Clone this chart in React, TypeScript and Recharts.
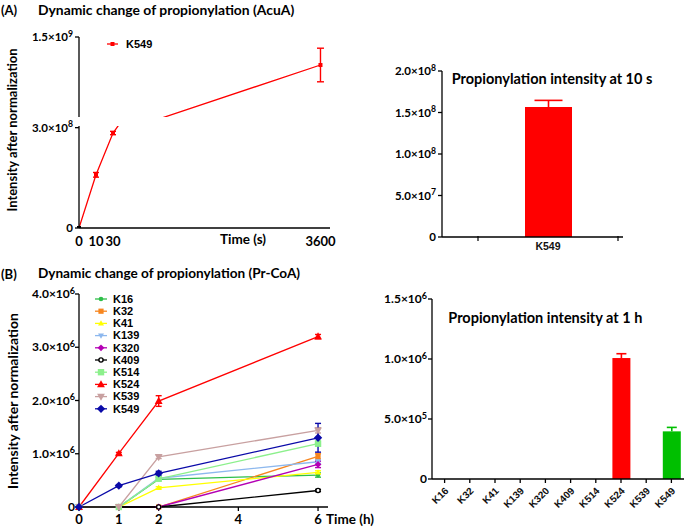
import React from "react";
import { LineChart, Line, BarChart, Bar, XAxis, YAxis, ErrorBar, Cell } from "recharts";

const SANS = "Lato, 'Open Sans', sans-serif";
const ARIAL = "'Liberation Sans', Arial, sans-serif";

// (A) AcuA time course for K549. The figure's time axis is not linear,
// so each time point gets an axis position; the labels are the real times.
const acuaTimes = ["0", "10", "30", "3600"];
const acuaAxisPos = [0, 1, 2, 14.2];
const acuaK549 = [0, 1.59e8, 2.84e8, 1.15e9];
const acuaK549Err = [0, 0.07e8, 0.05e8, 2.1e8];

// (A) bar, intensity at 10 s
const bar10sSites = ["K549"];
const bar10sValues = [1.566e8];
const bar10sErr = [0.08e8];

// (B) Pr-CoA time course
const hours = [0, 1, 2, 6];
const k16 = [0, 0, 0.52e6, 0.6e6];
const k32 = [0, 0, 0, 0.95e6];
const k41 = [0, 0, 0.36e6, 0.65e6];
const k139 = [0, 0, 0.54e6, 0.85e6];
const k320 = [0, 0, 0, 0.8e6];
const k409 = [0, 0, 0, 0.31e6];
const k514 = [0, 0, 0.53e6, 1.19e6];
const k524 = [0, 1.005e6, 1.99e6, 3.2e6];
const k539 = [0, 0, 0.94e6, 1.44e6];
const k549 = [0, 0.4e6, 0.63e6, 1.3e6];

const k16Err = [0, 0, 0, 0.04e6];
const k32Err = [0, 0, 0, 0.05e6];
const k41Err = [0, 0, 0.02e6, 0.03e6];
const k139Err = [0, 0, 0.02e6, 0.03e6];
const k320Err = [0, 0, 0, 0.06e6];
const k409Err = [0, 0, 0, 0.02e6];
const k514Err = [0, 0, 0.02e6, 0.05e6];
const k524Err = [0, 0.02e6, 0.1e6, 0.04e6];
const k539Err = [0, 0, 0.03e6, 0.05e6];
const k549Err = [0, 0.02e6, 0.04e6, 0.27e6];

// (B) bar, intensity at 1 h
const bar1hSites = ["K16", "K32", "K41", "K139", "K320", "K409", "K514", "K524", "K539", "K549"];
const bar1hValues = [0, 0, 0, 0, 0, 0, 0, 1.008e6, 0, 0.397e6];
const bar1hErr = [0, 0, 0, 0, 0, 0, 0, 0.036e6, 0, 0.033e6];
const bar1hColors = ["#ff0000", "#ff0000", "#ff0000", "#ff0000", "#ff0000", "#ff0000", "#ff0000", "#ff0000", "#ff0000", "#00bf00"];

type Shape = "circle" | "open" | "square" | "up" | "down" | "diamond";

const seriesB: { name: string; values: number[]; err: number[]; color: string; shape: Shape; r: number }[] = [
  { name: "K16", values: k16, err: k16Err, color: "#2fbf4a", shape: "circle", r: 2.3 },
  { name: "K32", values: k32, err: k32Err, color: "#f7861f", shape: "square", r: 2.6 },
  { name: "K41", values: k41, err: k41Err, color: "#ffff00", shape: "up", r: 2.6 },
  { name: "K139", values: k139, err: k139Err, color: "#8db8ee", shape: "down", r: 2.6 },
  { name: "K320", values: k320, err: k320Err, color: "#b400b4", shape: "diamond", r: 2.6 },
  { name: "K409", values: k409, err: k409Err, color: "#000000", shape: "open", r: 2.8 },
  { name: "K514", values: k514, err: k514Err, color: "#8cf08c", shape: "square", r: 3.2 },
  { name: "K524", values: k524, err: k524Err, color: "#ff0000", shape: "up", r: 3.4 },
  { name: "K539", values: k539, err: k539Err, color: "#c8a0a0", shape: "down", r: 3.4 },
  { name: "K549", values: k549, err: k549Err, color: "#0a0aa8", shape: "diamond", r: 3.2 },
];

const acuaData = acuaTimes.map((t, i) => ({ pos: acuaAxisPos[i], t, v: acuaK549[i], err: acuaK549Err[i] }));
const bar10sData = bar10sSites.map((s, i) => ({ site: s, v: bar10sValues[i], err: bar10sErr[i] }));
const bar1hData = bar1hSites.map((s, i) => ({ site: s, v: bar1hValues[i], err: bar1hErr[i] }));
const prcoaData = hours.map((h, i) => {
  const row: Record<string, number> = { h };
  seriesB.forEach((s) => {
    row[s.name] = s.values[i];
    row[s.name + "_err"] = s.err[i];
  });
  return row;
});

function Marker({ cx, cy, shape, color, r }: { cx: number; cy: number; shape: Shape; color: string; r: number }) {
  if (cx == null || cy == null) return null;
  switch (shape) {
    case "circle":
      return <circle cx={cx} cy={cy} r={r} fill={color} />;
    case "open":
      return <circle cx={cx} cy={cy} r={r - 0.7} fill="#fff" stroke={color} strokeWidth={1.4} />;
    case "square":
      return <rect x={cx - r} y={cy - r} width={2 * r} height={2 * r} fill={color} />;
    case "up":
      return <polygon points={`${cx},${cy - r * 1.25} ${cx - r * 1.15},${cy + r * 0.85} ${cx + r * 1.15},${cy + r * 0.85}`} fill={color} />;
    case "down":
      return <polygon points={`${cx},${cy + r * 1.25} ${cx - r * 1.15},${cy - r * 0.85} ${cx + r * 1.15},${cy - r * 0.85}`} fill={color} />;
    default:
      return <polygon points={`${cx},${cy - r * 1.3} ${cx + r * 1.3},${cy} ${cx},${cy + r * 1.3} ${cx - r * 1.3},${cy}`} fill={color} />;
  }
}

function SciTick(props: any) {
  const { x, y, payload, size = 11.5 } = props;
  const v = payload.value as number;
  let body: React.ReactNode = "0";
  if (v !== 0) {
    const [m, e] = v.toExponential(1).split("e");
    body = (
      <>
        {m}×10
        <tspan dy="-0.5em" fontSize={size * 0.75}>
          {String(Number(e))}
        </tspan>
      </>
    );
  }
  return (
    <text x={x} y={y} dy="0.35em" textAnchor="end" fontFamily={SANS} fontWeight={700} fontSize={size} fill="#000">
      {body}
    </text>
  );
}

function PlainTick(props: any) {
  const { x, y, payload, fmt } = props;
  return (
    <text x={x} y={y} dy="0.75em" textAnchor="middle" fontFamily={SANS} fontWeight={700} fontSize={13} fill="#000">
      {fmt ? fmt(payload.value) : payload.value}
    </text>
  );
}

// category label with tick marks on the band edges, as GraphPad draws them
function BandTick(props: any) {
  const { x, y, payload, half } = props;
  return (
    <g>
      <line x1={x - half} x2={x - half} y1={y - 1} y2={y + 4} stroke="#000" strokeWidth={1.2} />
      <line x1={x + half} x2={x + half} y1={y - 1} y2={y + 4} stroke="#000" strokeWidth={1.2} />
      <text x={x} y={y + 5} dy="0.75em" textAnchor="middle" fontFamily={ARIAL} fontWeight={700} fontSize={10.5} fill="#111">
        {payload.value}
      </text>
    </g>
  );
}

function RotTick(props: any) {
  const { x, y, payload } = props;
  const tx = x + 2;
  const ty = y + 4;
  return (
    <text x={tx} y={ty} dy="0.35em" textAnchor="end" transform={`rotate(-45 ${tx} ${ty})`} fontFamily={ARIAL} fontWeight={700} fontSize={10} fill="#111">
      {payload.value}
    </text>
  );
}

// bar with an upward-only error whisker in the bar's own colour
function BarUp(props: any) {
  const { x, y, width, height, payload, index } = props;
  if (!payload || !payload.v || height <= 0) return null;
  const color = bar1hColors[index];
  const up = (payload.err * height) / payload.v;
  const cx = x + width / 2;
  return (
    <g>
      <rect x={x} y={y} width={width} height={height} fill={color} />
      <line x1={cx} x2={cx} y1={y} y2={y - up} stroke={color} strokeWidth={1.6} />
      <line x1={cx - 5} x2={cx + 5} y1={y - up} y2={y - up} stroke={color} strokeWidth={1.6} />
    </g>
  );
}

function Txt({ x, y, children, size = 13, weight = 700, rotate = 0, anchor = "left", family = SANS }: any) {
  const tx = anchor === "center" ? "-50%" : "0";
  return (
    <div
      style={{
        position: "absolute",
        left: x,
        top: y,
        transform: `translate(${tx}, -50%) rotate(${rotate}deg)`,
        fontFamily: family,
        fontSize: size,
        fontWeight: weight,
        lineHeight: 1,
        whiteSpace: "nowrap",
        color: "#000",
      }}
    >
      {children}
    </div>
  );
}

const axisStyle = { stroke: "#000", strokeWidth: 1.3 };
const RED = "#ff0000";

export default function App() {
  const acuaLabel = (v: number) => acuaTimes[acuaAxisPos.indexOf(v)];
  return (
    <div style={{ position: "absolute", left: 0, top: 0, width: 685, height: 529, background: "#fff", overflow: "hidden" }}>
      {/* (A) left: broken y axis, upper segment */}
      <div style={{ position: "absolute", left: 0, top: 0 }}>
        <LineChart width={340} height={124} data={acuaData} margin={{ top: 37, right: 10, bottom: 7, left: 0 }}>
          <XAxis dataKey="pos" type="number" domain={[0, 14.76]} hide />
          <YAxis
            type="number"
            domain={[5e8, 1.5e9]}
            ticks={[5e8, 1.5e9]}
            allowDataOverflow
            width={79}
            axisLine={axisStyle}
            tickLine={axisStyle}
            tickSize={4}
            tickMargin={2}
            tick={<SciTick />}
          />
          <Line
            dataKey="v"
            stroke={RED}
            strokeWidth={1.3}
            isAnimationActive={false}
            dot={(p: any) => <Marker key={p.index} cx={p.cx} cy={p.cy} shape="square" color={RED} r={2} />}
          >
            <ErrorBar dataKey="err" direction="y" width={3.5} stroke={RED} strokeWidth={1.4} />
          </Line>
        </LineChart>
      </div>
      {/* (A) left: lower segment */}
      <div style={{ position: "absolute", left: 0, top: 118 }}>
        <LineChart width={340} height={142} data={acuaData} margin={{ top: 8, right: 10, bottom: 0, left: 0 }}>
          <XAxis
            dataKey="pos"
            type="number"
            domain={[0, 14.76]}
            ticks={acuaAxisPos}
            interval={0}
            height={32}
            axisLine={axisStyle}
            tickLine={false}
            tickSize={0}
            tickMargin={8}
            tick={<PlainTick fmt={acuaLabel} />}
          />
          <YAxis
            type="number"
            domain={[0, 3.05e8]}
            ticks={[0, 3e8]}
            allowDataOverflow
            width={79}
            axisLine={axisStyle}
            tickLine={axisStyle}
            tickSize={4}
            tickMargin={2}
            tick={<SciTick />}
          />
          <Line
            dataKey="v"
            stroke={RED}
            strokeWidth={1.3}
            isAnimationActive={false}
            dot={(p: any) => <Marker key={p.index} cx={p.cx} cy={p.cy} shape="square" color={p.index === 0 ? "#000" : RED} r={2} />}
          >
            <ErrorBar dataKey="err" direction="y" width={3} stroke={RED} strokeWidth={1.4} />
          </Line>
        </LineChart>
      </div>
      <svg style={{ position: "absolute", left: 100, top: 36 }} width={70} height={16}>
        <line x1={7} x2={18} y1={8} y2={8} stroke={RED} strokeWidth={1.3} />
        <Marker cx={12.5} cy={8} shape="square" color={RED} r={2} />
        <text x={26} y={8} dy="0.35em" fontFamily={ARIAL} fontWeight={700} fontSize={11}>
          K549
        </text>
      </svg>
      <Txt x={1} y={9.5}>(A)</Txt>
      <Txt x={38} y={9.5} size={13.9}>Dynamic change of propionylation (AcuA)</Txt>
      <Txt x={11.7} y={129.5} anchor="center" rotate={-90} size={13}>Intensity after normalization</Txt>
      <Txt x={220} y={239.5} size={13.5}>Time (s)</Txt>

      {/* (A) right: bar at 10 s */}
      <div style={{ position: "absolute", left: 340, top: 40 }}>
        <BarChart width={290} height={225} data={bar10sData} margin={{ top: 31, right: 7, bottom: 3, left: 0 }}>
          <XAxis
            dataKey="site"
            height={25}
            padding={{ left: 36, right: 5 }}
            axisLine={axisStyle}
            tickLine={false}
            tickSize={0}
            tickMargin={0}
            tick={<BandTick half={70} />}
          />
          <YAxis
            type="number"
            domain={[0, 2e8]}
            ticks={[0, 5e7, 1e8, 1.5e8, 2e8]}
            width={102}
            axisLine={axisStyle}
            tickLine={axisStyle}
            tickSize={4}
            tickMargin={2}
            tick={<SciTick />}
          />
          <Bar dataKey="v" fill={RED} barSize={47} isAnimationActive={false}>
            <ErrorBar dataKey="err" direction="y" width={14} stroke={RED} strokeWidth={1.6} />
          </Bar>
        </BarChart>
      </div>
      <Txt x={451.7} y={79} size={14.5}>Propionylation intensity at 10 s</Txt>

      {/* (B) left: Pr-CoA time course */}
      <div style={{ position: "absolute", left: 0, top: 280 }}>
        <LineChart width={340} height={249} data={prcoaData} margin={{ top: 14, right: 12, bottom: 0, left: 0 }}>
          <XAxis
            dataKey="h"
            type="number"
            domain={[0, 6.25]}
            ticks={hours.concat([4]).sort((a, b) => a - b)}
            interval={0}
            height={22}
            axisLine={axisStyle}
            tickLine={axisStyle}
            tickSize={4}
            tickMargin={3}
            tick={<PlainTick />}
          />
          <YAxis
            type="number"
            domain={[0, 4e6]}
            ticks={[0, 1e6, 2e6, 3e6, 4e6]}
            width={79}
            axisLine={axisStyle}
            tickLine={axisStyle}
            tickSize={4}
            tickMargin={0}
            tick={<SciTick size={12} />}
          />
          {seriesB.map((s) => (
            <Line
              key={s.name}
              dataKey={s.name}
              stroke={s.color}
              strokeWidth={1.3}
              isAnimationActive={false}
              dot={(p: any) => <Marker key={p.index} cx={p.cx} cy={p.cy} shape={s.shape} color={s.color} r={s.r} />}
            >
              <ErrorBar dataKey={s.name + "_err"} direction="y" width={3} stroke={s.color} strokeWidth={1.4} />
            </Line>
          ))}
        </LineChart>
      </div>
      <svg style={{ position: "absolute", left: 90, top: 292 }} width={60} height={124}>
        {seriesB.map((s, i) => {
          const y = 7 + i * 12.2;
          return (
            <g key={s.name}>
              <line x1={5} x2={17} y1={y} y2={y} stroke={s.color} strokeWidth={1.3} />
              <Marker cx={11} cy={y} shape={s.shape} color={s.color} r={s.r} />
              <text x={23} y={y} dy="0.35em" fontFamily={ARIAL} fontWeight={700} fontSize={11}>
                {s.name}
              </text>
            </g>
          );
        })}
      </svg>
      <Txt x={1} y={274}>(B)</Txt>
      <Txt x={38} y={274} size={13.6}>Dynamic change of propionylation (Pr-CoA)</Txt>
      <Txt x={12.7} y={400.8} anchor="center" rotate={-90} size={14}>Intensity after normalization</Txt>
      <Txt x={326} y={520} size={13.5}>Time (h)</Txt>

      {/* (B) right: bars at 1 h */}
      <div style={{ position: "absolute", left: 340, top: 280 }}>
        <BarChart width={345} height={249} data={bar1hData} margin={{ top: 19, right: 1, bottom: 0, left: 0 }}>
          <XAxis
            dataKey="site"
            height={50}
            interval={0}
            axisLine={axisStyle}
            tickLine={axisStyle}
            tickSize={4}
            tickMargin={2}
            tick={<RotTick />}
          />
          <YAxis
            type="number"
            domain={[0, 1.5e6]}
            ticks={[0, 5e5, 1e6, 1.5e6]}
            width={92}
            axisLine={axisStyle}
            tickLine={axisStyle}
            tickSize={4}
            tickMargin={1}
            tick={<SciTick size={12} />}
          />
          <Bar dataKey="v" barSize={18} isAnimationActive={false} shape={<BarUp />}>
            {bar1hData.map((d, i) => (
              <Cell key={d.site} fill={bar1hColors[i]} />
            ))}
          </Bar>
        </BarChart>
      </div>
      <Txt x={448.3} y={318.3} size={14.5}>Propionylation intensity at 1 h</Txt>
    </div>
  );
}
